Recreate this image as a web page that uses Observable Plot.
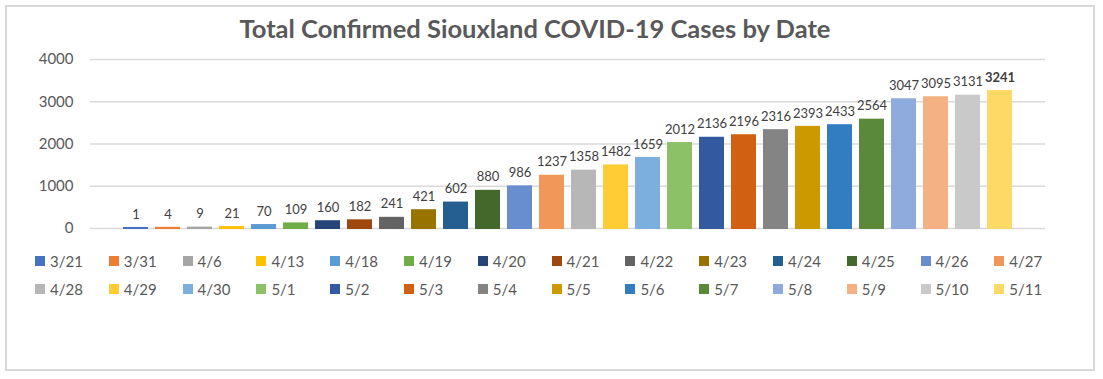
<!DOCTYPE html>
<html>
<head>
<meta charset="utf-8">
<script src="https://cdn.jsdelivr.net/npm/d3@7"></script>
<script src="https://cdn.jsdelivr.net/npm/@observablehq/plot@0.6"></script>
<style>
  html, body { margin: 0; padding: 0; background: #fff; }
  body { width: 1103px; height: 379px; position: relative; overflow: hidden; font-family: Lato, "Open Sans", sans-serif; }
  #frame { position: absolute; left: 5px; top: 5px; width: 1086px; height: 362px; border: 2px solid #d9d9d9; }
  #title { position: absolute; left: 0; width: 1070px; top: 13px; text-align: center; font-size: 25.5px; font-weight: bold; color: #595959; white-space: nowrap; }
  #chart { position: absolute; left: 0; top: 45px; }
  .legend-row { position: absolute; left: 35px; display: flex; }
  .legend-item { width: 73.8px; display: flex; align-items: center; font-size: 15px; color: #595959; }
  .sw { width: 10px; height: 10px; margin-right: 5px; flex: none; }
</style>
</head>
<body>
<div id="frame"></div>
<div id="title">Total Confirmed Siouxland COVID-19 Cases by Date</div>
<div id="chart"></div>
<div id="legend"></div>
<script>
const dates = ["3/21","3/31","4/6","4/13","4/18","4/19","4/20","4/21","4/22","4/23","4/24","4/25","4/26","4/27",
               "4/28","4/29","4/30","5/1","5/2","5/3","5/4","5/5","5/6","5/7","5/8","5/9","5/10","5/11"];
const cases = [1,4,9,21,70,109,160,182,241,421,602,880,986,1237,
               1358,1482,1659,2012,2136,2196,2316,2393,2433,2564,3047,3095,3131,3241];
const colors = ["#4472C4","#ED7D31","#A5A5A5","#FFC000","#5B9BD5","#70AD47","#264478","#9E480E","#636363","#997300","#255E91","#43682B","#698ED0","#F1975A",
                "#B7B7B7","#FFCD33","#7CAFDD","#8CC168","#335AA1","#D26012","#848484","#CC9A00","#327DC2","#5A8A39","#8FAADC","#F4B183","#C9C9C9","#FFD966"];
const yTicks = [0,1000,2000,3000,4000];

const data = dates.map((d, i) => ({date: d, cases: cases[i], last: i === dates.length - 1}));

const chart = Plot.plot({
  width: 1103,
  height: 190,
  marginLeft: 90,
  marginRight: 58,
  marginTop: 14,
  marginBottom: 7,
  style: {fontFamily: "Lato, 'Open Sans', sans-serif", background: "transparent"},
  x: {domain: dates, paddingInner: 0.226, paddingOuter: 0.9, axis: null},
  y: {domain: [0, 4000], label: null, axis: null},
  color: {domain: dates, range: colors},
  marks: [
    Plot.gridY(yTicks, {stroke: "#d9d9d9", strokeOpacity: 1, strokeWidth: 1.4}),
    Plot.barY(data, {x: "date", y: "cases", fill: "date", insetBottom: -1, insetTop: -1}),
    Plot.text(data, {filter: d => !d.last, x: "date", y: "cases", text: d => String(d.cases), dy: -14, fontSize: 13, fill: "#404040"}),
    Plot.text(data, {filter: d => d.last, x: "date", y: "cases", text: d => String(d.cases), dy: -14, fontSize: 13, fontWeight: "bold", fill: "#404040"}),
    Plot.axisY(yTicks, {tickSize: 0, tickPadding: 17, fontSize: 15, fill: "#595959", label: null, tickFormat: d => String(d)})
  ]
});
document.getElementById("chart").appendChild(chart);

// legend: two rows of 14
const legend = document.getElementById("legend");
const perRow = 14;
const rowTops = [252, 280];
for (let r = 0; r < 2; r++) {
  const row = document.createElement("div");
  row.className = "legend-row";
  row.style.top = rowTops[r] + "px";
  for (let i = r * perRow; i < Math.min(dates.length, (r + 1) * perRow); i++) {
    const item = document.createElement("div");
    item.className = "legend-item";
    const sw = document.createElement("span");
    sw.className = "sw";
    sw.style.background = colors[i];
    const lab = document.createElement("span");
    lab.textContent = dates[i];
    item.appendChild(sw);
    item.appendChild(lab);
    row.appendChild(item);
  }
  legend.appendChild(row);
}
</script>
</body>
</html>
